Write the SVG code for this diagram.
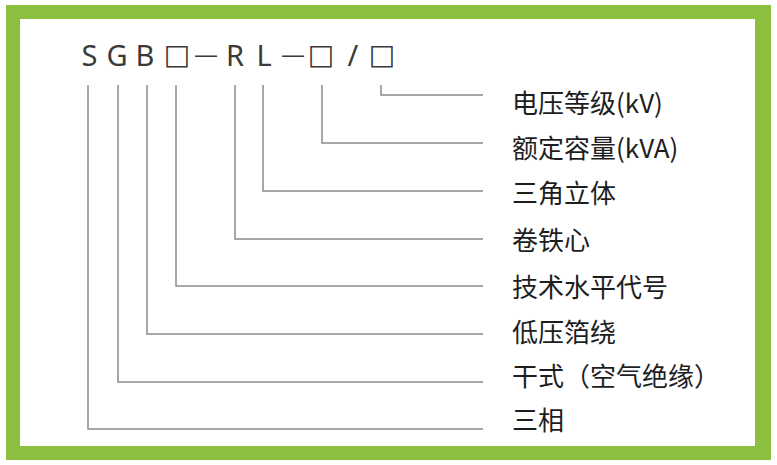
<svg xmlns="http://www.w3.org/2000/svg" width="777" height="465" viewBox="0 0 777 465">
<style>
.code{font-family:"Noto Sans","Noto Sans CJK SC",sans-serif;font-size:29px;fill:#3a3a3a;text-anchor:middle}
.box{font-family:"DejaVu Sans",sans-serif;font-size:28px;fill:#3a3a3a;text-anchor:middle;font-variant-emoji:text}
.dash{font-family:"Liberation Sans",sans-serif;font-size:22px;fill:#3a3a3a;text-anchor:middle}
.lbl{font-family:"Noto Sans CJK SC",sans-serif;font-size:26px;fill:#1e1e1e}
.ln{fill:none;stroke:#8a8a8a;stroke-width:1.5}
</style>
<rect x="0" y="0" width="777" height="465" fill="#ffffff"/>
<path d="M6 5H771V460H6Z M20 19V446H755V19Z" fill="#8dbf3e" fill-rule="evenodd"/>
<g id="code">
<text class="code" x="89.5" y="66">S</text>
<text class="code" x="117" y="66">G</text>
<text class="code" x="145" y="66">B</text>
<text class="box" x="177" y="64">□&#xFE0E;</text>
<text class="dash" x="206" y="62">—</text>
<text class="code" x="235" y="66">R</text>
<text class="code" x="264" y="66">L</text>
<text class="dash" x="293" y="62">—</text>
<text class="box" x="321" y="64">□&#xFE0E;</text>
<text class="code" x="353" y="66">/</text>
<text class="box" x="382" y="64">□&#xFE0E;</text>
</g>
<g id="connectors">
<path class="ln" d="M381 85V95H483"/>
<path class="ln" d="M322 85V143H483"/>
<path class="ln" d="M263 85V191H483"/>
<path class="ln" d="M235 85V239H483"/>
<path class="ln" d="M176 85V286H483"/>
<path class="ln" d="M147 85V334H483"/>
<path class="ln" d="M118 85V382H483"/>
<path class="ln" d="M88 85V429H483"/>
</g>
<g id="n1"><text class="lbl" x="512" y="113">电压等级(kV)</text></g>
<g id="n2"><text class="lbl" x="512" y="158">额定容量(kVA)</text></g>
<g id="n3"><text class="lbl" x="512" y="203">三角立体</text></g>
<g id="n4"><text class="lbl" x="512" y="250">卷铁心</text></g>
<g id="n5"><text class="lbl" x="512" y="297">技术水平代号</text></g>
<g id="n6"><text class="lbl" x="512" y="342">低压箔绕</text></g>
<g id="n7"><text class="lbl" x="512" y="386">干式（空气绝缘）</text></g>
<g id="n8"><text class="lbl" x="512" y="430">三相</text></g>
</svg>
